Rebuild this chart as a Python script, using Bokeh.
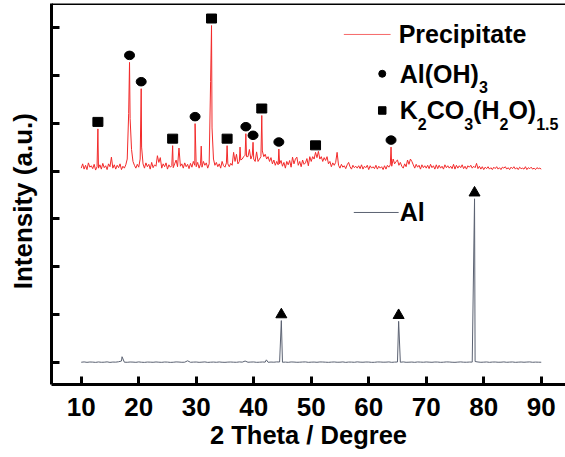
import numpy as np
from bokeh.plotting import figure
from bokeh.models import Range1d, FixedTicker, Span, Label
from bokeh.embed import file_html
from bokeh.resources import INLINE

# ---------------------------------------------------------------------------
# XRD data (2-theta in degrees, intensity in counts)
# ---------------------------------------------------------------------------

# Precipitate: background scan at 0.25 deg steps from 10 to 90 deg
prec_step_theta = np.round(np.arange(10.0, 90.0001, 0.25), 2)
prec_background = [
    60, 150, 40, 120,      # 10
    30, 170, 80, 110,      # 11
    50, 140, 20, 90,       # 12
    60, 130, 40, 160,      # 13
    70, 110, 30, 150,      # 14
    90, 290, 60, 130,      # 15
    40, 120, 70, 150,      # 16
    30, 100, 60, 130,      # 17
    250, 1200, 1100, 450,  # 18
    200, 120, 60, 140,     # 19
    80, 250, 500, 150,     # 20
    60, 170, 90, 140,      # 21
    40, 180, 70, 130,      # 22
    100, 320, 180, 280,    # 23
    60, 150, 90, 170,      # 24
    40, 130, 80, 110,      # 25
    70, 150, 230, 90,      # 26
    480, 100, 150, 60,     # 27
    170, 90, 140, 50,      # 28
    160, 80, 200, 120,     # 29
    90, 180, 60, 150,      # 30
    80, 200, 120, 170,     # 31
    60, 150, 1870, 900,    # 32
    250, 120, 180, 90,     # 33
    150, 60, 200, 110,     # 34
    80, 170, 150, 90,      # 35
    160, 120, 390, 200,    # 36
    350, 150, 200, 230,    # 37
    250, 300, 330, 300,    # 38
    300, 450, 250, 330,    # 39
    250, 200, 400, 200,    # 40
    250, 300, 420, 300,    # 41
    350, 250, 300, 200,    # 42
    280, 150, 230, 120,    # 43
    200, 130, 150, 220,    # 44
    100, 180, 60, 200,     # 45
    130, 220, 80, 290,     # 46
    150, 250, 290, 120,    # 47
    200, 90, 230, 140,     # 48
    170, 260, 110, 300,    # 49
    200, 300, 250, 390,    # 50
    280, 410, 250, 300,    # 51
    200, 280, 220, 300,    # 52
    150, 200, 90, 170,     # 53
    120, 180, 390, 120,    # 54
    60, 140, 80, 110,      # 55
    50, 130, 180, 90,      # 56
    40, 120, 70, 100,      # 57
    60, 110, 50, 130,      # 58
    40, 100, 70, 120,      # 59
    30, 110, 60, 90,       # 60
    50, 120, 40, 100,      # 61
    60, 90, 30, 110,       # 62
    40, 120, 80, 130,      # 63
    100, 250, 150, 200,    # 64
    230, 120, 180, 100,    # 65
    60, 150, 90, 230,      # 66
    140, 250, 200, 130,    # 67
    60, 140, 80, 120,      # 68
    40, 130, 70, 110,      # 69
    60, 120, 50, 140,      # 70
    70, 110, 40, 130,      # 71
    50, 120, 60, 100,      # 72
    40, 130, 70, 110,      # 73
    60, 100, 50, 140,      # 74
    40, 120, 60, 110,      # 75
    70, 130, 50, 100,      # 76
    40, 110, 80, 120,      # 77
    60, 100, 70, 160,      # 78
    50, 100, 40, 90,       # 79
    30, 80, 50, 90,        # 80
    40, 70, 30, 80,        # 81
    50, 90, 40, 70,        # 82
    30, 80, 60, 90,        # 83
    40, 70, 30, 80,        # 84
    50, 90, 40, 70,        # 85
    30, 80, 50, 60,        # 86
    40, 90, 30, 70,        # 87
    50, 80, 40, 60,        # 88
    30, 70, 50, 60,        # 89
    40,                    # 90
]

# Precipitate: sharp reflections (apex angle, apex intensity)
prec_peak_theta = [12.9, 18.4, 20.43, 25.9, 29.8, 30.87, 32.66, 35.37,
                   37.62, 38.63, 39.88, 41.4, 44.37, 63.88]
prec_peak_counts = [880, 2270, 1720, 530, 990, 520, 3040, 530,
                    500, 780, 600, 1160, 460, 500]

# Phase assignments on the precipitate pattern
aloh3_theta = [18.4, 20.43, 29.8, 38.63, 39.88, 44.37, 63.88]
k2co3_theta = [12.9, 25.9, 32.66, 35.37, 41.4, 50.75]

# Aluminium reference: background at 0.5 deg steps from 10 to 90 deg
al_step_theta = np.round(np.arange(10.0, 90.0001, 0.5), 2)
al_background = [
    5, 12, 3, 10, 8, 2, 11, 4, 6, 13,      # 10-14.5
    2, 9, 7, 15, 30, 6, 4, 10, 8, 3,       # 15-19.5
    12, 5, 2, 9, 7, 4, 11, 6, 3, 10,       # 20-24.5
    8, 2, 5, 12, 9, 4, 6, 35, 4, 8,        # 25-29.5
    10, 3, 7, 12, 2, 6, 9, 4, 11, 5,       # 30-34.5
    3, 8, 10, 6, 4, 12, 7, 30, 5, 9,       # 35-39.5
    11, 3, 6, 10, 8, 4, 9, 6, 12, 10,      # 40-44.5
    5, 8, 3, 11, 9, 4, 6, 10, 12, 3,       # 45-49.5
    7, 9, 4, 11, 10, 6, 3, 8, 11, 5,       # 50-54.5
    6, 12, 2, 9, 8, 4, 13, 7, 5, 10,       # 55-59.5
    9, 3, 4, 11, 10, 6, 7, 12, 3, 8,       # 60-64.5
    10, 5, 12, 4, 6, 9, 3, 11, 8, 5,       # 65-69.5
    11, 7, 4, 10, 9, 3, 6, 12, 10, 5,      # 70-74.5
    3, 8, 12, 6, 5, 9, 8, 20, 10, 4,       # 75-79.5
    7, 11, 3, 9, 10, 5, 6, 12, 4, 8,       # 80-84.5
    11, 3, 7, 10, 5, 9, 12, 4, 8, 6,       # 85-89.5
    5,                                     # 90
]

# Aluminium reflections
al_peak_theta = [17.1, 42.2, 44.8, 65.2, 78.4]
al_peak_counts = [120, 55, 875, 860, 3420]
al_marked_theta = [44.8, 65.2, 78.4]

x_ticks = [10, 20, 30, 40, 50, 60, 70, 80, 90]
y_ticks = [0, 1000, 2000, 3000, 4000, 5000, 6000, 7000]

# vertical shift that stacks the precipitate pattern above the Al pattern
PREC_SHIFT = 4000

# ---------------------------------------------------------------------------
# Figure
# ---------------------------------------------------------------------------
W, H = 565, 457
LEFT, RIGHT, TOP, BOTTOM = 51, 0, 3, 73
X0, X1 = 4.83, 94.22
Y0, Y1 = -460, 7500

FONT = "Liberation Sans"

p = figure(width=W, height=H, output_backend="svg", toolbar_location=None,
           x_range=Range1d(X0, X1), y_range=Range1d(Y0, Y1),
           min_border_left=LEFT, min_border_right=RIGHT,
           min_border_top=TOP, min_border_bottom=BOTTOM)
p.background_fill_color = "white"
p.border_fill_color = "white"
p.outline_line_color = None
p.xgrid.visible = False
p.ygrid.visible = False

# pixel scale of the frame, used for laying out the key text
px_per_deg = (W - LEFT - RIGHT) / (X1 - X0)
px_per_count = (H - TOP - BOTTOM) / (Y1 - Y0)


def merge(step_theta, background, peak_theta, peak_counts):
    xs = np.concatenate([np.asarray(step_theta, float), np.asarray(peak_theta, float)])
    ys = np.concatenate([np.asarray(background, float), np.asarray(peak_counts, float)])
    order = np.argsort(xs, kind="stable")
    return xs[order], ys[order]


prec_x, prec_y = merge(prec_step_theta, prec_background, prec_peak_theta, prec_peak_counts)
al_x, al_y = merge(al_step_theta, al_background, al_peak_theta, al_peak_counts)

RED = "#f22a2a"
GREY = "#5b6272"

p.line(prec_x, prec_y + PREC_SHIFT, line_color=RED, line_width=1)
p.line(al_x, al_y, line_color=GREY, line_width=1)


def tops(theta_list, xs, ys, shift, gap_px):
    out = []
    for t in theta_list:
        m = np.abs(xs - t) <= 0.15
        out.append(ys[m].max() + shift + gap_px / px_per_count)
    return out


# phase markers sitting just above their reflections
p.ellipse(aloh3_theta, tops(aloh3_theta, prec_x, prec_y, PREC_SHIFT, 7),
          width=10, height=8.5, width_units="screen", height_units="screen",
          fill_color="black", line_color="black")
p.rect(k2co3_theta, tops(k2co3_theta, prec_x, prec_y, PREC_SHIFT, 7),
       width=10, height=9, width_units="screen", height_units="screen",
       fill_color="black", line_color="black")
p.scatter(al_marked_theta, tops(al_marked_theta, al_x, al_y, 0, 6),
          marker="triangle", size=11, fill_color="black", line_color="black")

# ---------------------------------------------------------------------------
# Axes
# ---------------------------------------------------------------------------
for ax in (p.xaxis[0], p.yaxis[0]):
    ax.axis_line_width = 3
    ax.axis_line_color = "black"
    ax.major_tick_line_width = 3
    ax.major_tick_line_color = "black"
    ax.major_tick_in = 8
    ax.major_tick_out = 0
    ax.minor_tick_line_color = None
    ax.major_label_text_font = FONT
    ax.major_label_text_font_style = "bold"
    ax.major_label_text_color = "black"
    ax.axis_label_text_font = FONT
    ax.axis_label_text_font_style = "bold"
    ax.axis_label_text_color = "black"

p.xaxis.ticker = FixedTicker(ticks=x_ticks)
p.xaxis.major_label_text_font_size = "26px"
p.xaxis.major_label_standoff = 13
p.xaxis.axis_label = "2 Theta / Degree"
p.xaxis.axis_label_standoff = 2
p.xaxis.axis_label_text_font_size = "25.5px"

# intensity axis: ticks only, no numbers; the title sits a little below
# the middle of the frame, so it carries two trailing no-break spaces
p.yaxis.ticker = FixedTicker(ticks=y_ticks)
p.yaxis.major_label_overrides = {t: "" for t in y_ticks}
p.yaxis.major_label_text_color = None
p.yaxis.major_label_standoff = 0
p.yaxis.axis_label = "Intensity (a.u.)\u00a0\u00a0"
p.yaxis.axis_label_standoff = 14
p.yaxis.axis_label_text_font_size = "26px"

# top border of the frame
p.add_layout(Span(location=Y1, dimension="width", line_color="black", line_width=3))

# ---------------------------------------------------------------------------
# Key
# ---------------------------------------------------------------------------
ARIAL_BOLD = {"A": 722, "l": 278, "(": 333, ")": 333, "O": 778, "H": 722,
              "K": 722, "C": 722, ".": 278}
for d in "0123456789":
    ARIAL_BOLD[d] = 556

MAIN_PX, SUB_PX = 25, 16
SUB_DROP_PX = 13.5


def text_width(s, size):
    return sum(ARIAL_BOLD.get(c, 556) for c in s) * size / 1000.0


def key_text(x, y_mid, s, size=MAIN_PX):
    p.add_layout(Label(x=x, y=y_mid, text=s, text_font=FONT, text_font_style="bold",
                       text_font_size=f"{size}px", text_color="black",
                       text_baseline="middle", text_align="left"))


def formula(x, y_mid, parts):
    """Draw a chemical formula from (text, is_subscript) parts."""
    for s, sub in parts:
        size = SUB_PX if sub else MAIN_PX
        y = y_mid - (SUB_DROP_PX / px_per_count if sub else 0)
        key_text(x, y, s, size)
        x += text_width(s, size) / px_per_deg


KEY_X = 65.4
ROW_PREC, ROW_ALOH, ROW_K2CO3, ROW_AL = 6853, 6032, 5265, 3134

p.line([55.67, 63.8], [ROW_PREC, ROW_PREC], line_color=RED, line_width=1, line_alpha=0.7)
key_text(KEY_X - 0.2, ROW_PREC, "Precipitate")

p.ellipse([62.35], [ROW_ALOH], width=7, height=7, width_units="screen",
          height_units="screen", fill_color="black", line_color="black")
formula(KEY_X, ROW_ALOH, [("Al(OH)", False), ("3", True)])

p.rect([62.35], [ROW_K2CO3], width=7.5, height=7.5, width_units="screen",
       height_units="screen", fill_color="black", line_color="black")
formula(KEY_X, ROW_K2CO3, [("K", False), ("2", True), ("CO", False), ("3", True),
                           ("(H", False), ("2", True), ("O)", False), ("1.5", True)])

p.line([57.4, 65.2], [ROW_AL, ROW_AL], line_color=GREY, line_width=1)
key_text(KEY_X, ROW_AL, "Al")

open("out.html", "w").write(file_html(p, INLINE))
